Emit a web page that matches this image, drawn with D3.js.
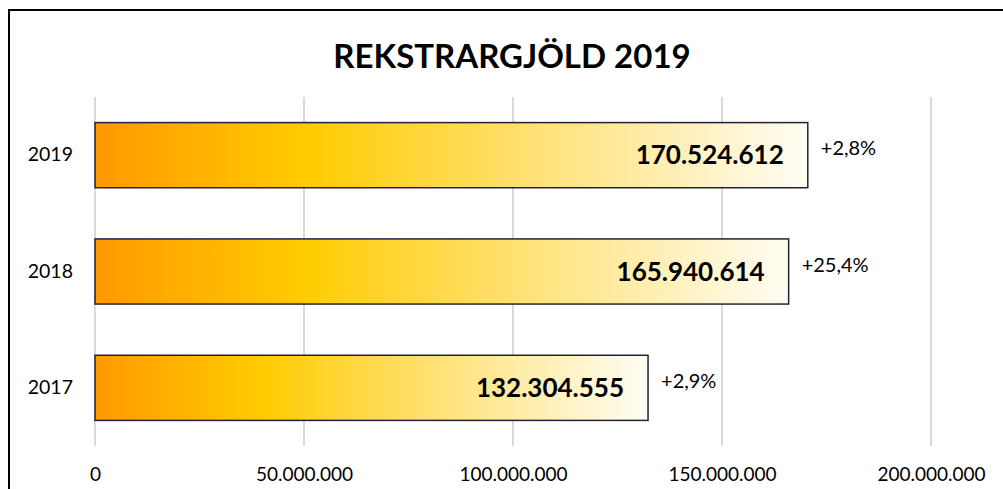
<!DOCTYPE html>
<html><head><meta charset="utf-8">
<script src="https://cdn.jsdelivr.net/npm/d3@7"></script>
<style>body{margin:0;background:#fff}svg{display:block}text{font-family:Lato,"Open Sans",sans-serif}</style>
</head><body>
<script>
const categories = ["2019", "2018", "2017"];
const values = [170524612, 165940614, 132304555];
const valueLabels = ["170.524.612", "165.940.614", "132.304.555"];
const changeLabels = ["+2,8%", "+25,4%", "+2,9%"];
const tickValues = [0, 50000000, 100000000, 150000000, 200000000];
const tickLabels = ["0", "50.000.000", "100.000.000", "150.000.000", "200.000.000"];
const title = "REKSTRARGJÖLD 2019";

const W = 1003, H = 489;
const svg = d3.select("body").append("svg").attr("width", W).attr("height", H);

const defs = svg.append("defs");
const grad = defs.append("linearGradient").attr("id", "barGrad")
  .attr("x1", "0%").attr("x2", "100%").attr("y1", "0%").attr("y2", "0%");
[[0, "#FF9900"], [0.3, "#FFCC00"], [0.6, "#FFE070"], [1, "#FFFDF4"]].forEach(([o, c]) =>
  grad.append("stop").attr("offset", o).attr("stop-color", c));

const x = d3.scaleLinear().domain([0, 200000000]).range([95, 931]);
const y = d3.scaleBand().domain(categories).range([97, 446]).paddingInner(0.44).paddingOuter(0.22);

// border
svg.append("rect").attr("x", 9).attr("y", 10).attr("width", 1200).attr("height", 1000)
  .attr("fill", "none").attr("stroke", "#000").attr("stroke-width", 2);

// title
svg.append("text").attr("x", 512).attr("y", 68).attr("text-anchor", "middle")
  .attr("font-size", 33).attr("font-weight", "bold").attr("fill", "#000").text(title);

// gridlines
svg.append("g").selectAll("line").data(tickValues).join("line")
  .attr("x1", d => x(d)).attr("x2", d => x(d)).attr("y1", 97).attr("y2", 446)
  .attr("stroke", (d, i) => i === 0 ? "#D9D9E6" : "#D9D9D9").attr("stroke-width", 2);

// x axis labels
const xAxis = d3.axisBottom(x).tickValues(tickValues).tickFormat((d, i) => tickLabels[i]).tickSize(0).tickPadding(0);
const gx = svg.append("g").attr("transform", "translate(0,467)").call(xAxis);
gx.select(".domain").remove();
gx.selectAll("text").attr("font-size", 19).attr("fill", "#000").attr("font-family", "Lato");

// y axis labels
const yAxis = d3.axisLeft(y).tickSize(0).tickPadding(0);
const gy = svg.append("g").attr("transform", "translate(73,0)").call(yAxis);
gy.select(".domain").remove();
gy.selectAll("text").attr("font-size", 19.5).attr("fill", "#000").attr("font-family", "Lato");

// bars
svg.append("g").selectAll("rect").data(values).join("rect")
  .attr("x", x(0)).attr("y", (d, i) => y(categories[i]))
  .attr("width", d => x(d) - x(0)).attr("height", y.bandwidth())
  .attr("fill", "url(#barGrad)").attr("stroke", "#22223A").attr("stroke-width", 1.5);

// value labels
svg.append("g").selectAll("text").data(values).join("text")
  .attr("x", d => x(d) - 24).attr("y", (d, i) => y(categories[i]) + y.bandwidth() / 2 + 9)
  .attr("text-anchor", "end").attr("font-size", 26).attr("font-weight", "bold").attr("fill", "#000")
  .text((d, i) => valueLabels[i]);

// change labels
svg.append("g").selectAll("text").data(values).join("text")
  .attr("x", d => x(d) + 13).attr("y", (d, i) => y(categories[i]) + y.bandwidth() / 2 + 0)
  .attr("font-size", 20).attr("fill", "#000")
  .text((d, i) => changeLabels[i]);
</script>
</body></html>
